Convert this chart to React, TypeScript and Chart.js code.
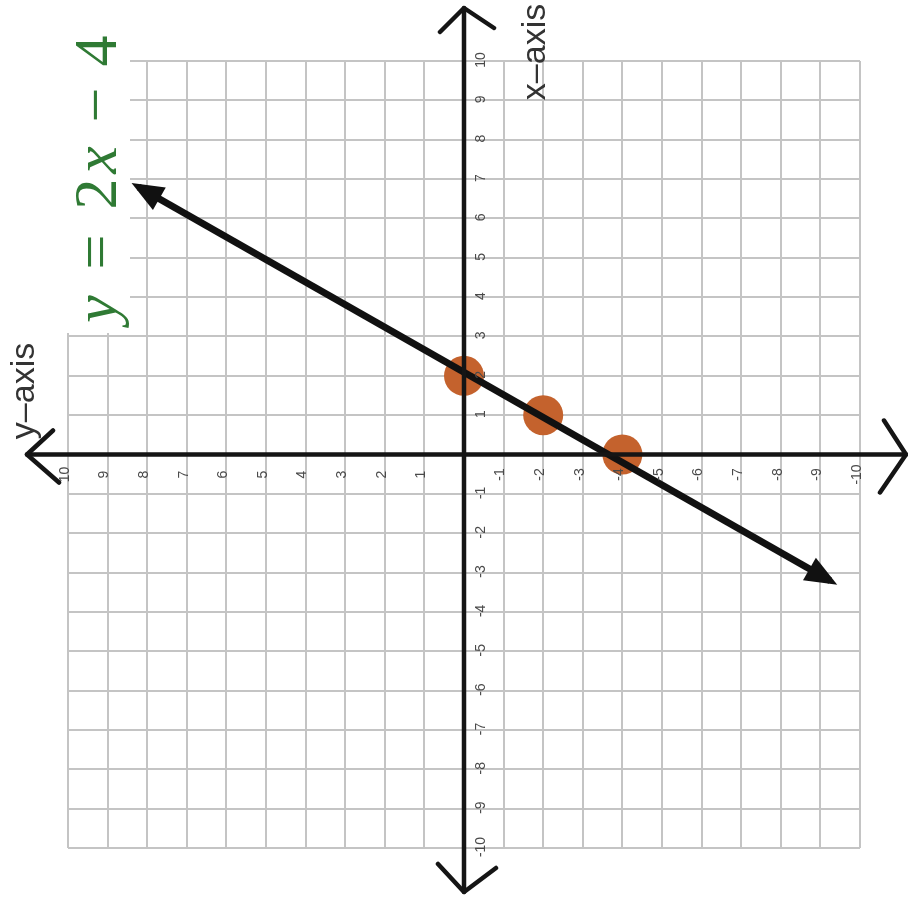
import React, { useEffect, useRef } from "react";
import { Chart, registerables } from "chart.js";

Chart.register(...registerables);

// The plane is shown rotated: the vertical axis is the x-axis (positive up),
// the horizontal axis is the y-axis (positive to the left).
const pointX = [2, 1, 0];
const pointY = [0, -2, -4];
const lineX = [6.8, -3.21];
const lineY = [8.22, -9.25];
const tickValues = [-10, -9, -8, -7, -6, -5, -4, -3, -2, -1, 1, 2, 3, 4, 5, 6, 7, 8, 9, 10];
const tickLabels = tickValues.map((v) => String(v));
const xAxisTitle = "x–axis";
const yAxisTitle = "y–axis";
const equationTokens = ["y", "=", "2", "x", "−", "4"];
const equationItalic = [true, false, false, true, false, false];

const decorPlugin = {
  id: "decor",
  beforeDatasetsDraw(chart: any) {
    const ctx = chart.ctx;
    ctx.save();
    ctx.fillStyle = "#ffffff";
    ctx.fillRect(0, 0, 130, 333);
    ctx.restore();
  },
  afterDatasetsDraw(chart: any) {
    const ctx = chart.ctx;
    const xs = chart.scales.x;
    const ys = chart.scales.y;
    const ca = chart.chartArea;
    const ax = xs.getPixelForValue(0);
    const ay = ys.getPixelForValue(0);

    // line arrow heads
    const meta = chart.getDatasetMeta(0);
    const p0 = meta.data[0];
    const p1 = meta.data[1];
    const drawHead = (tx: number, ty: number, fx: number, fy: number) => {
      const dx = tx - fx;
      const dy = ty - fy;
      const len = Math.hypot(dx, dy);
      const ux = dx / len;
      const uy = dy / len;
      const tipX = tx + ux * 8;
      const tipY = ty + uy * 8;
      const L = 32;
      const W = 13;
      const bx = tipX - ux * L;
      const by = tipY - uy * L;
      ctx.beginPath();
      ctx.moveTo(tipX, tipY);
      ctx.lineTo(bx - uy * W, by + ux * W);
      ctx.lineTo(bx + uy * W, by - ux * W);
      ctx.closePath();
      ctx.fillStyle = "#111111";
      ctx.fill();
    };
    ctx.save();
    drawHead(p0.x, p0.y, p1.x, p1.y);
    drawHead(p1.x, p1.y, p0.x, p0.y);
    ctx.restore();

    // axes
    ctx.save();
    ctx.strokeStyle = "#151515";
    ctx.lineWidth = 4.5;
    ctx.lineCap = "round";
    ctx.lineJoin = "round";
    const top = ca.top - 53;
    const bottom = ca.bottom + 44;
    const left = ca.left - 41;
    const right = ca.right + 46;
    ctx.beginPath();
    ctx.moveTo(ax, top);
    ctx.lineTo(ax, bottom);
    ctx.moveTo(left, ay);
    ctx.lineTo(right, ay);
    ctx.stroke();
    const a = 24;
    ctx.beginPath();
    ctx.moveTo(ax - a, top + a);
    ctx.lineTo(ax, top);
    ctx.lineTo(ax + a + 6, top + a - 4);
    ctx.moveTo(ax - a - 2, bottom - a - 4);
    ctx.lineTo(ax, bottom);
    ctx.lineTo(ax + a + 8, bottom - a);
    ctx.moveTo(left + a + 2, ay - a);
    ctx.lineTo(left, ay);
    ctx.lineTo(left + a + 8, ay + a + 4);
    ctx.moveTo(right - a + 2, ay - a - 10);
    ctx.lineTo(right, ay);
    ctx.lineTo(right - a - 2, ay + a + 14);
    ctx.stroke();
    ctx.restore();

    // tick labels (rotated)
    ctx.save();
    ctx.fillStyle = "#4a4a4a";
    ctx.font = "14px 'Liberation Sans', sans-serif";
    ctx.textAlign = "center";
    ctx.textBaseline = "middle";
    tickValues.forEach((v, i) => {
      const hx = xs.getPixelForValue(v) - 3;
      ctx.save();
      ctx.translate(hx, ay + 20);
      ctx.rotate(-Math.PI / 2);
      ctx.fillText(tickLabels[i], 0, 0);
      ctx.restore();
      const vy = ys.getPixelForValue(v) - 1;
      ctx.save();
      ctx.translate(ax + 17, vy);
      ctx.rotate(-Math.PI / 2);
      ctx.fillText(tickLabels[i], 0, 0);
      ctx.restore();
    });
    ctx.restore();

    // axis titles
    ctx.save();
    ctx.fillStyle = "#333333";
    ctx.font = "34px 'Liberation Sans', sans-serif";
    ctx.textAlign = "center";
    ctx.textBaseline = "alphabetic";
    ctx.save();
    ctx.translate(545, 52);
    ctx.rotate(-Math.PI / 2);
    ctx.fillText(xAxisTitle, 0, 0);
    ctx.restore();
    ctx.save();
    ctx.translate(34, 391);
    ctx.rotate(-Math.PI / 2);
    ctx.fillText(yAxisTitle, 0, 0);
    ctx.restore();
    ctx.restore();

    // equation
    const offsets = [16, 73, 131, 165, 220, 274];
    ctx.save();
    ctx.fillStyle = "#2f7a34";
    ctx.textAlign = "center";
    ctx.textBaseline = "alphabetic";
    ctx.translate(116, 325);
    ctx.rotate(-Math.PI / 2);
    equationTokens.forEach((t, i) => {
      ctx.font = (equationItalic[i] ? "italic " : "") + "62px 'Liberation Serif', serif";
      ctx.fillText(t, offsets[i], 0);
    });
    ctx.restore();
  },
};

export default function App() {
  const ref = useRef<HTMLCanvasElement | null>(null);
  useEffect(() => {
    if (!ref.current) return;
    const gridOpts = { color: "#c4c4c4", lineWidth: 2, drawTicks: false };
    const chart = new Chart(ref.current, {
      type: "scatter",
      data: {
        datasets: [
          {
            data: lineY.map((y, i) => ({ x: y, y: lineX[i] })),
            showLine: true,
            borderColor: "#111111",
            borderWidth: 7,
            pointRadius: 0,
            order: 0,
          },
          {
            data: pointY.map((y, i) => ({ x: y, y: pointX[i] })),
            pointRadius: 20,
            backgroundColor: "#c4622d",
            borderWidth: 0,
            order: 1,
          },
        ],
      },
      options: {
        responsive: false,
        animation: false,
        events: [],
        layout: { padding: { left: 68, top: 61, right: 48, bottom: 54 } },
        plugins: { legend: { display: false }, tooltip: { enabled: false } },
        scales: {
          x: {
            type: "linear",
            min: -10,
            max: 10,
            reverse: true,
            ticks: { stepSize: 1, display: false },
            grid: gridOpts,
            border: { display: false },
            afterFit: (s: any) => {
              s.height = 0;
            },
          },
          y: {
            type: "linear",
            min: -10,
            max: 10,
            ticks: { stepSize: 1, display: false },
            grid: gridOpts,
            border: { display: false },
            afterFit: (s: any) => {
              s.width = 0;
            },
          },
        },
      },
      plugins: [decorPlugin],
    } as any);
    return () => chart.destroy();
  }, []);
  return (
    <div style={{ position: "absolute", left: 0, top: 0, width: 908, height: 902, background: "#fff" }}>
      <canvas ref={ref} width={908} height={902} style={{ display: "block" }} />
    </div>
  );
}
